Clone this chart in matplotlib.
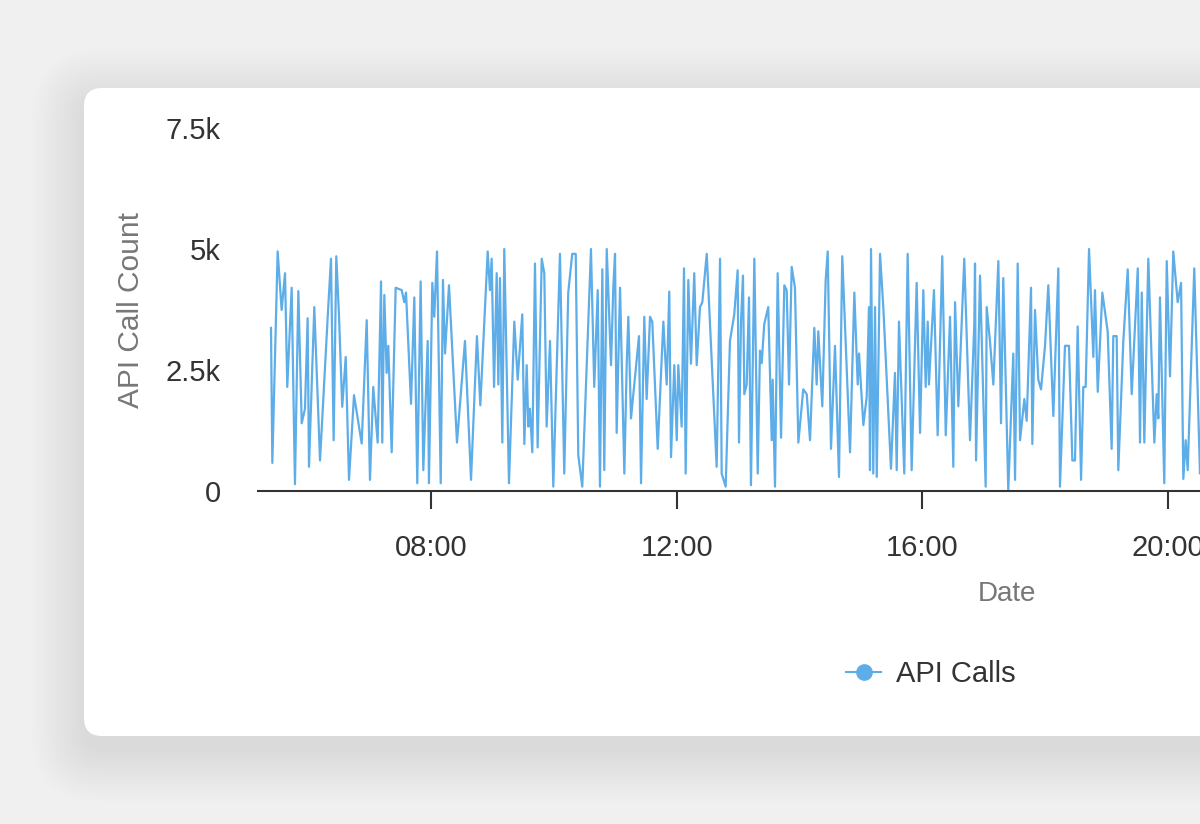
import numpy as np
import pandas as pd
import matplotlib
matplotlib.use("Agg")
import matplotlib.pyplot as plt
import matplotlib.dates as mdates
from matplotlib.patches import FancyBboxPatch
from matplotlib.lines import Line2D
from matplotlib.ticker import FuncFormatter
from matplotlib.transforms import IdentityTransform

# Données (minutes après 05:00, nombre d'appels API)
start_day = "2024-01-01 05:00"
minutes = [
    23.7, 25.0, 30.2, 34.1, 37.4, 39.6, 43.9, 47.1, 50.4, 53.7, 56.9, 59.5, 60.8, 66.0,
    71.6, 79.1, 82.3, 84.9, 87.5, 90.1, 93.3, 96.7, 99.9, 104.8, 112.3, 117.2, 120.4,
    123.6, 127.9, 131.2, 132.4, 134.4, 136.7, 138.3, 141.6, 145.5, 151.4, 153.9, 155.6,
    160.5, 163.7, 166.6, 169.9, 172.5, 176.8, 178.0, 181.3, 183.2, 185.9, 189.5, 191.7,
    193.7, 197.6, 205.4, 213.2, 219.1, 224.9, 228.2, 235.4, 237.6, 239.3, 241.6, 244.2,
    245.8, 247.4, 249.7, 251.6, 256.2, 261.4, 264.7, 269.2, 271.2, 273.5, 275.1, 276.7,
    279.0, 281.6, 284.2, 288.2, 290.7, 293.0, 296.3, 299.5, 306.0, 310.2, 314.1, 318.0,
    321.4, 323.9, 327.8, 336.3, 339.5, 342.9, 345.1, 347.4, 349.3, 351.7, 355.9, 358.1,
    359.8, 361.4, 364.7, 368.9, 371.2, 372.8, 375.4, 380.0, 383.2, 385.2, 388.4, 390.7,
    394.0, 396.2, 401.5, 402.8, 407.0, 410.3, 412.8, 414.5, 417.7, 420.1, 421.6, 424.9,
    427.2, 428.8, 431.4, 434.0, 437.2, 439.6, 442.8, 445.1, 449.4, 459.1, 462.4, 464.0,
    467.9, 472.1, 476.3, 479.6, 480.9, 482.9, 484.8, 486.1, 488.4, 490.7, 492.6, 495.9,
    499.2, 501.4, 503.1, 505.6, 509.5, 512.9, 513.8, 516.1, 518.7, 522.0, 525.2, 527.5,
    529.8, 532.4, 535.6, 538.9, 543.7, 547.1, 550.3, 554.5, 556.8, 558.4, 562.3, 565.6,
    567.6, 570.8, 574.7, 578.6, 581.8, 589.4, 593.6, 596.9, 598.2, 602.4, 605.7, 607.9,
    608.9, 609.9, 612.1, 613.8, 615.5, 618.7, 621.9, 629.4, 633.3, 635.0, 637.2, 642.4,
    645.7, 649.6, 654.5, 657.8, 661.0, 663.3, 665.3, 666.5, 671.4, 675.0, 679.5, 682.9,
    687.1, 690.3, 692.0, 695.2, 701.0, 706.6, 710.8, 711.5, 712.5, 716.4, 721.9, 722.9,
    726.1, 729.4, 734.3, 736.9, 739.1, 744.0, 748.9, 750.6, 753.2, 755.5, 759.7, 762.0,
    766.2, 767.5, 770.1, 773.3, 776.0, 779.9, 783.1, 788.0, 792.9, 794.5, 799.4, 803.3,
    806.6, 809.2, 811.8, 815.1, 817.3, 819.6, 822.9, 827.1, 828.7, 831.4, 835.9, 841.1,
    845.0, 846.6, 849.9, 851.5, 856.4, 860.7, 864.6, 870.5, 872.7, 874.4, 876.9, 880.8,
    886.7, 889.0, 890.6, 892.2, 896.4, 898.8, 902.0, 905.2, 909.5, 912.8, 915.0, 917.3,
    919.3, 925.7, 931.3, 937.2, 943.0,
]
api_calls = [
    3370, 580, 4950, 3740, 4500, 2150, 4200, 140, 4130, 1400, 1700, 3570, 500, 3800,
    630, 3600, 4800, 1050, 4850, 3640, 1740, 2770, 230, 1980, 980, 3530, 230,
    2150, 1000, 4330, 1000, 4050, 2440, 3000, 800, 4200, 4150, 3900, 4100,
    1800, 4000, 160, 4330, 430, 3100, 160, 4300, 3600, 4950, 160, 4360,
    2840, 4250, 1000, 3100, 230, 3200, 1770, 4950, 4150, 4800, 2150, 4500,
    2200, 4400, 1000, 5000, 160, 3500, 2300, 3650, 970, 2600, 1330, 1700,
    800, 4700, 900, 4800, 4500, 1330, 3100, 90, 4900, 360, 4100, 4900,
    4900, 740, 90, 5000, 2150, 4150, 90, 4580, 430, 5000, 2600, 4200,
    4900, 1200, 4200, 360, 2600, 3600, 1500, 2500, 3200, 160, 3600, 1900,
    3600, 3500, 870, 1500, 3500, 2200, 4120, 700, 2600, 1050, 2600, 1330,
    4600, 360, 4360, 2630, 4500, 2600, 3800, 3900, 4900, 500, 4800, 360,
    90, 3100, 3650, 4560, 1000, 3500, 4450, 2000, 2200, 4000, 120, 4800,
    360, 2900, 2640, 3450, 3800, 1050, 2300, 90, 4500, 1100, 4250, 4150,
    2200, 4630, 4200, 1000, 2100, 2000, 1050, 3370, 2200, 3300, 1750, 4360,
    4950, 870, 3000, 290, 4850, 800, 4100, 2200, 2840, 1360, 1950, 3800,
    430, 5000, 360, 3800, 290, 4900, 3800, 460, 2440, 430, 3500, 360,
    4900, 430, 4300, 1200, 4150, 2150, 3500, 2200, 4150, 1150, 4850, 1150,
    3600, 500, 3900, 1750, 4800, 1050, 3450, 4700, 630, 4450, 90, 3800,
    3100, 2200, 4750, 1400, 4400, 20, 2840, 230, 4700, 1050, 1900, 1450,
    4200, 970, 3740, 2300, 2100, 3000, 4250, 1550, 4600, 90, 3000, 3000,
    630, 630, 3400, 230, 2150, 2150, 5000, 2770, 4150, 2050, 4100, 3300,
    870, 3200, 3200, 430, 3100, 4580, 2000, 4600, 1000, 4100, 1000, 4800,
    1000, 2000, 1500, 4000, 160, 4750, 2370, 4950, 3900, 4300, 250, 1050,
    430, 4600, 360, 3200, 1500,
]
y_ticks = [0, 2500, 5000, 7500]
series_name = "API Calls"

base = pd.Timestamp(start_day)
times = base + pd.to_timedelta(minutes, unit="min")

line_color = "#5dade9"
text_dark = "#333333"
text_grey = "#777777"

plt.rcParams["font.family"] = ["Liberation Sans", "DejaVu Sans"]

W, H = 1200, 824
fig = plt.figure(figsize=(W / 100, H / 100), dpi=100, facecolor="#f0f0f0")

# Carte blanche avec ombre douce (coordonnées en pixels)
card_x, card_y, card_w, card_h = 84, H - 736, 1400, 648
for i in range(22):
    grow = 2.5 * i
    shadow = FancyBboxPatch(
        (card_x - grow, card_y - 14 - grow), card_w + 2 * grow, card_h + 2 * grow,
        boxstyle="round,pad=0,rounding_size=%.1f" % (18 + grow),
        transform=IdentityTransform(), facecolor="black", edgecolor="none",
        alpha=0.0035, zorder=-3,
    )
    fig.patches.append(shadow)
card = FancyBboxPatch(
    (card_x, card_y), card_w, card_h, boxstyle="round,pad=0,rounding_size=18",
    transform=IdentityTransform(), facecolor="white", edgecolor="none", zorder=-2,
)
fig.patches.append(card)

# Axes (dépasse à droite, comme la capture)
ax_left, ax_right, ax_top, ax_bottom = 258, 1400, 128, 491
ax = fig.add_axes([ax_left / W, (H - ax_bottom) / H,
                   (ax_right - ax_left) / W, (ax_bottom - ax_top) / H])
ax.set_facecolor("none")

ax.plot(times, api_calls, color=line_color, linewidth=1.6, solid_joinstyle="round")

ax.set_ylim(0, 7500)
ax.set_xlim(base + pd.Timedelta(minutes=11), base + pd.Timedelta(minutes=1126.7))

for side in ["top", "right", "left"]:
    ax.spines[side].set_visible(False)
ax.spines["bottom"].set_color(text_dark)
ax.spines["bottom"].set_linewidth(1.5)

ax.set_yticks(y_ticks)
ax.yaxis.set_major_formatter(FuncFormatter(
    lambda v, p: "0" if v == 0 else ("%gk" % (v / 1000))))
ax.tick_params(axis="y", length=0, pad=27, labelsize=21, labelcolor=text_dark)

ax.xaxis.set_major_locator(mdates.HourLocator(byhour=[0, 4, 8, 12, 16, 20]))
ax.xaxis.set_major_formatter(mdates.DateFormatter("%H:%M"))
ax.tick_params(axis="x", length=13, width=1.5, color=text_dark, pad=18,
               labelsize=21, labelcolor=text_dark)

ax.set_ylabel("API Call Count", fontsize=21.5, color=text_grey, va="center")
ax.yaxis.set_label_coords(-0.111, 0.5)
ax.set_xlabel("Date", fontsize=20, color=text_grey, va="center")
ax.xaxis.set_label_coords((1007 - ax_left) / (ax_right - ax_left), -0.283)

handle = Line2D([], [], color=line_color, linewidth=1.5, marker="o", markersize=11)
fig.legend(handles=[handle], labels=[series_name], loc="center",
           bbox_to_anchor=(931 / W, (H - 674) / H), frameon=False,
           fontsize=21, labelcolor=text_dark, handlelength=1.2, handletextpad=0.5)

fig.savefig("out.png", dpi=100, facecolor=fig.get_facecolor())
